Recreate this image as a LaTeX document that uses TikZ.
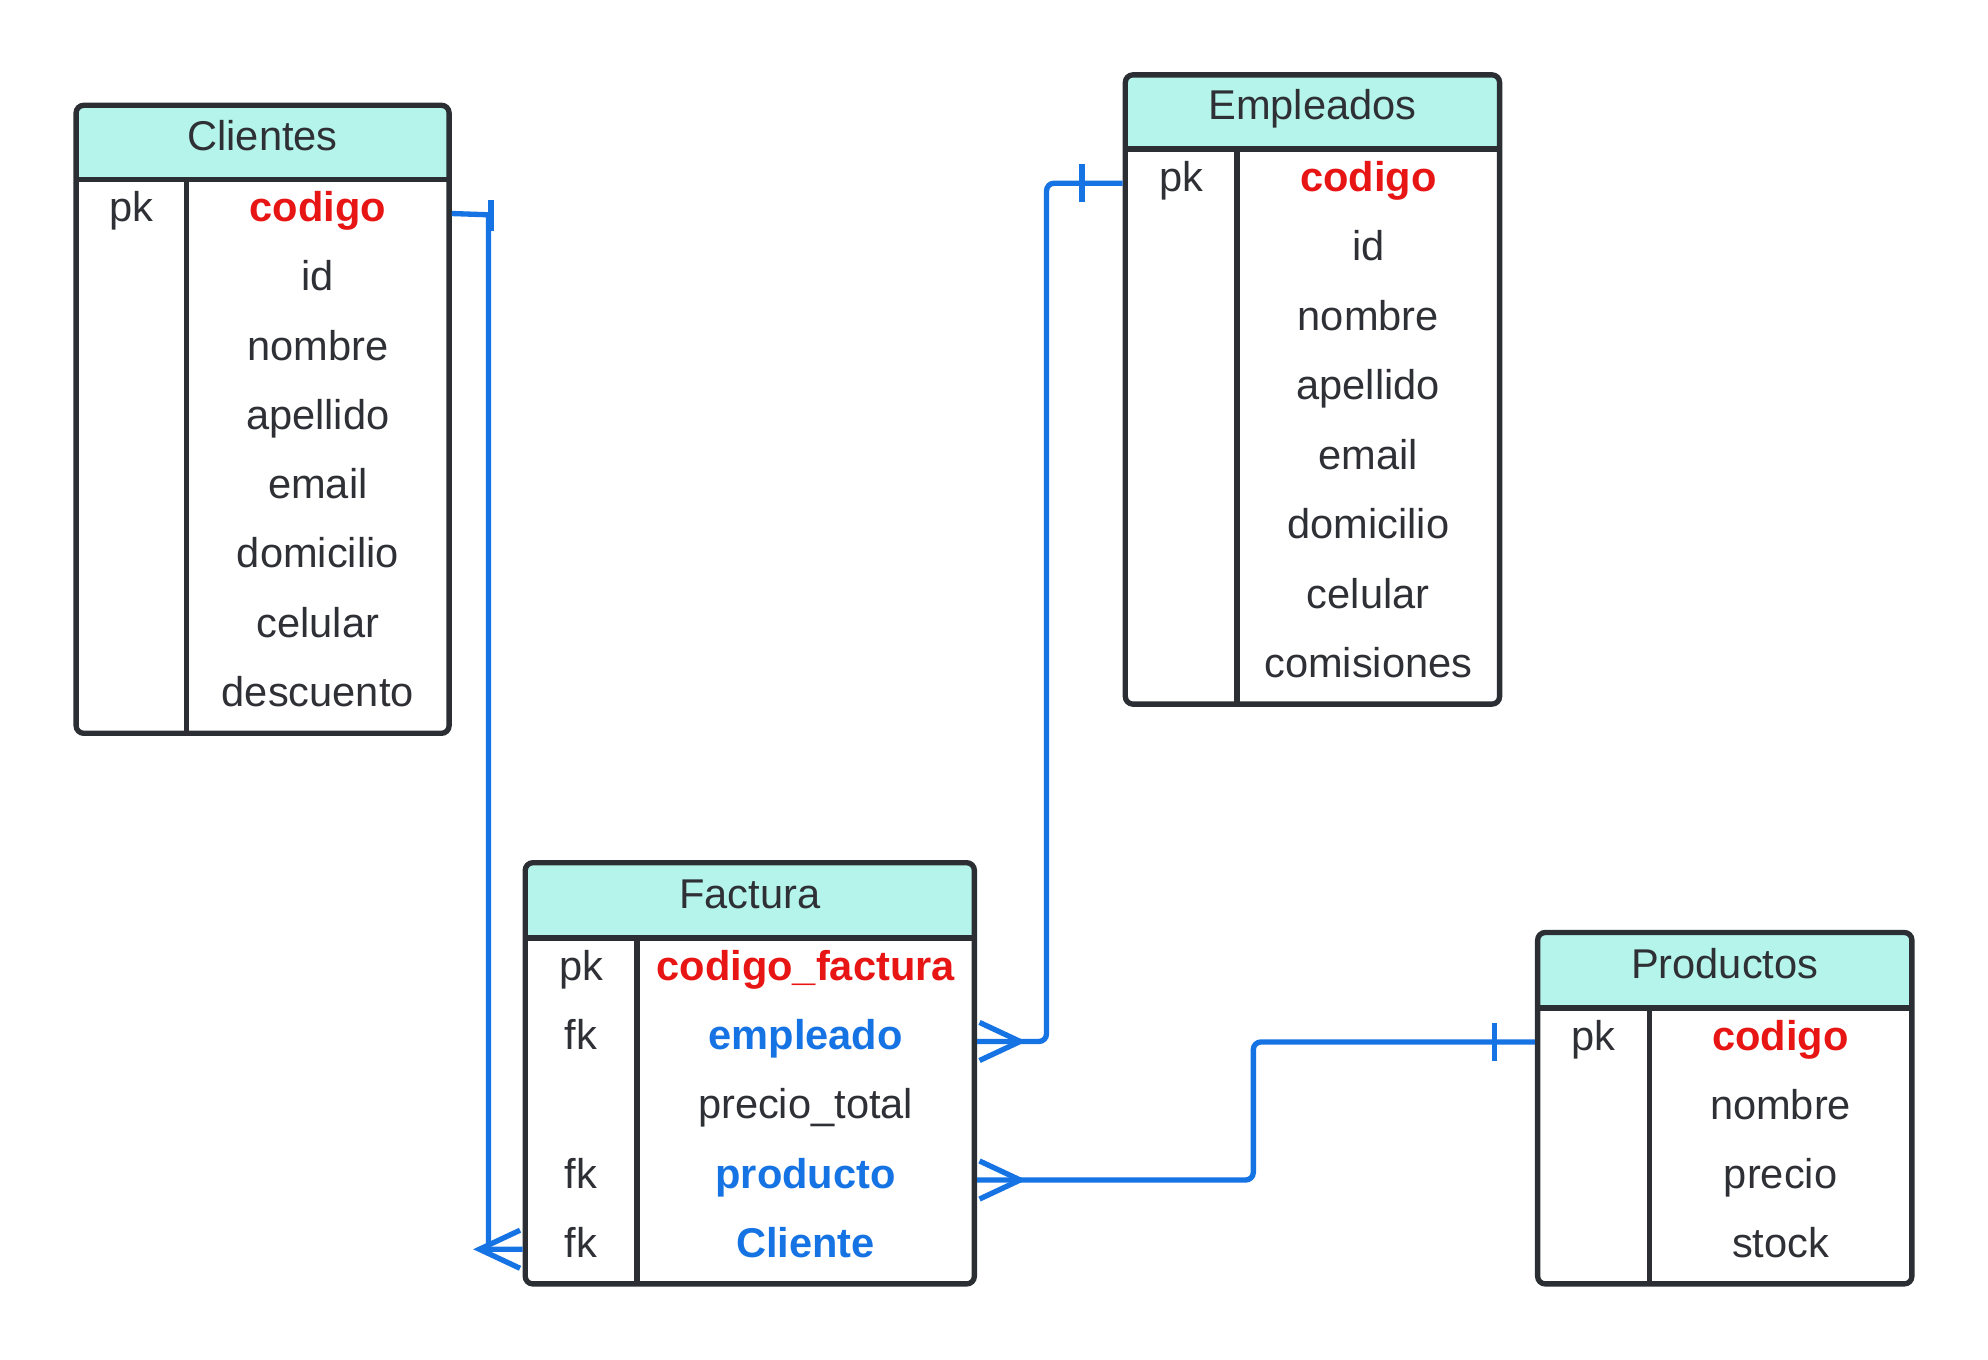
\documentclass[tikz,border=0pt]{standalone}
\usepackage{fontspec}
\setmainfont{Liberation Sans}
\definecolor{borde}{HTML}{2B2F34}
\definecolor{texto}{HTML}{2E3035}
\definecolor{cabecera}{HTML}{B4F4EA}
\definecolor{rojo}{HTML}{E81515}
\definecolor{azul}{HTML}{1673E3}

\begin{document}
\begin{tikzpicture}[x=0.5pt,y=-0.5pt,font=\fontsize{16.4}{19}\selectfont,text=texto,
   tabla/.style={draw=borde,line width=2.1pt,rounded corners=3pt},
   cab/.style={fill=cabecera,rounded corners=3pt,inner sep=0pt,text height=0.72em,text depth=0.08em},
   campo/.style={inner sep=0pt,text height=0.72em,text depth=0.08em},
   clave/.style={campo,text=rojo,font=\fontsize{16.4}{19}\selectfont\bfseries},
   ajena/.style={campo,text=azul,font=\fontsize{16.4}{19}\selectfont\bfseries},
   linea/.style={draw=borde,line width=2.1pt},
   rel/.style={draw=azul,line width=2.1pt,rounded corners=3pt},
   pata/.style={draw=azul,line width=2.1pt}]
   \useasboundingbox (0,0) rectangle (1567,1071.2);

   % Clientes
   \node[cab,minimum width=147pt,minimum height=29pt] (cliT) at (207,112) {Clientes};
   \node[tabla,minimum width=147pt,minimum height=247.5pt] (cli) at (207,330.5) {};
   \draw[linea] (cliT.south west) -- (cliT.south east);
   \draw[linea] (147,141) -- (147,578);
   \node[campo] (cpk) at (103.5,168.3) {pk};
   \node[clave] (c1) at (250.5,168.3) {codigo};
   \node[campo] (c2) at (250.5,222.9) {id};
   \node[campo] (c3) at (250.5,277.5) {nombre};
   \node[campo] (c4) at (250.5,332.1) {apellido};
   \node[campo] (c5) at (250.5,386.7) {email};
   \node[campo] (c6) at (250.5,441.3) {domicilio};
   \node[campo] (c7) at (250.5,495.9) {celular};
   \node[campo] (c8) at (250.5,550.5) {descuento};

   % Empleados
   \node[cab,minimum width=147.5pt,minimum height=29pt] (empT) at (1034.5,88) {Empleados};
   \node[tabla,minimum width=147.5pt,minimum height=248pt] (emp) at (1034.5,307) {};
   \draw[linea] (empT.south west) -- (empT.south east);
   \draw[linea] (975,117) -- (975,555);
   \node[campo] (epk) at (931,144.4) {pk};
   \node[clave] (e1) at (1078.5,144.4) {codigo};
   \node[campo] (e2) at (1078.5,199.1) {id};
   \node[campo] (e3) at (1078.5,253.9) {nombre};
   \node[campo] (e4) at (1078.5,308.6) {apellido};
   \node[campo] (e5) at (1078.5,363.4) {email};
   \node[campo] (e6) at (1078.5,418.1) {domicilio};
   \node[campo] (e7) at (1078.5,472.9) {celular};
   \node[campo] (e8) at (1078.5,527.6) {comisiones};

   % Factura
   \node[cab,minimum width=177pt,minimum height=29.5pt] (facT) at (591,709.5) {Factura};
   \node[tabla,minimum width=177pt,minimum height=166pt] (fac) at (591,846) {};
   \draw[linea] (facT.south west) -- (facT.south east);
   \draw[linea] (502,739) -- (502,1012);
   \node[campo] (fpk) at (458,766.3) {pk};
   \node[campo] (ffk2) at (458,820.9) {fk};
   \node[campo] (ffk4) at (458,930.1) {fk};
   \node[campo] (ffk5) at (458,984.7) {fk};
   \node[clave] (f1) at (635,766.3) {codigo\_factura};
   \node[ajena] (f2) at (635,820.9) {empleado};
   \node[campo] (f3) at (635,875.5) {precio\_total};
   \node[ajena] (f4) at (635,930.1) {producto};
   \node[ajena] (f5) at (635,984.7) {Cliente};

   % Productos
   \node[cab,minimum width=147.5pt,minimum height=29.5pt] (proT) at (1359.5,764.5) {Productos};
   \node[tabla,minimum width=147.5pt,minimum height=138.5pt] (pro) at (1359.5,873.5) {};
   \draw[linea] (proT.south west) -- (proT.south east);
   \draw[linea] (1300,794) -- (1300,1012);
   \node[campo] (ppk) at (1256,821.3) {pk};
   \node[clave] (p1) at (1403.5,821.3) {codigo};
   \node[campo] (p2) at (1403.5,875.8) {nombre};
   \node[campo] (p3) at (1403.5,930.3) {precio};
   \node[campo] (p4) at (1403.5,984.8) {stock};

   % relaciones
   \draw[pata] (cli.east |- c1) -- ++(29,1) |- (fac.west |- f5);
   \draw[pata] (cli.east |- c1) ++(31,-11) -- ++(0,25);
   \draw[pata] (fac.west |- f5) ++(-2,-15) -- ++(-32,15) -- ++(32,15);

   \draw[rel] (emp.west |- e1) -- ++(-60,0) |- (fac.east |- f2);
   \draw[pata] (emp.west |- e1) ++(-32,-15) -- ++(0,30);
   \draw[pata] (fac.east |- f2) ++(2,-15) -- ++(32,15) -- ++(-32,15);

   \draw[rel] (pro.west |- p1) -- ++(-222,0) |- (fac.east |- f4);
   \draw[pata] (pro.west |- p1) ++(-32,-15) -- ++(0,30);
   \draw[pata] (fac.east |- f4) ++(2,-15) -- ++(32,15) -- ++(-32,15);
\end{tikzpicture}
\end{document}
